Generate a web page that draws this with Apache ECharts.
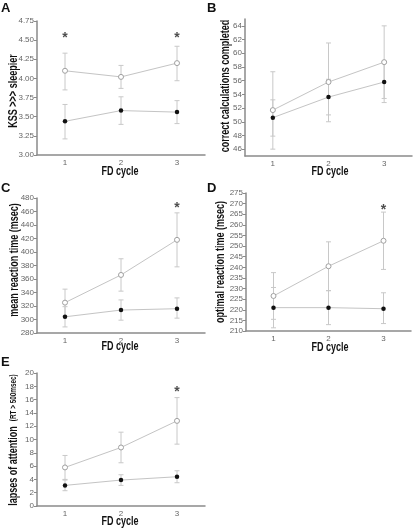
<!DOCTYPE html>
<html><head><meta charset="utf-8">
<script src="https://cdn.jsdelivr.net/npm/echarts@6/dist/echarts.min.js"></script>
<style>html,body{margin:0;padding:0;background:#fff}#c{width:415px;height:531px}</style>
</head><body><div id="c"></div>
<script>
// ---- data ----
const cycles = ['1', '2', '3'];

// Panel A: KSS
const A_open = [4.10, 4.02, 4.20];
const A_openLow = [3.85, 3.87, 3.97];
const A_openHigh = [4.33, 4.17, 4.42];
const A_fill = [3.44, 3.58, 3.56];
const A_fillLow = [3.21, 3.40, 3.41];
const A_fillHigh = [3.66, 3.76, 3.71];
const A_star = [[0, 4.57], [2, 4.57]];
const A_ticks = [3.00, 3.25, 3.50, 3.75, 4.00, 4.25, 4.50, 4.75];

// Panel B: correct calculations
const B_open = [51.7, 55.8, 58.7];
const B_openLow = [46.0, 50.0, 53.4];
const B_openHigh = [57.3, 61.5, 64.0];
const B_fill = [50.6, 53.6, 55.8];
const B_fillLow = [47.9, 51.0, 52.8];
const B_fillHigh = [53.2, 56.2, 58.8];
const B_star = [];
const B_ticks = [46, 48, 50, 52, 54, 56, 58, 60, 62, 64];

// Panel C: mean reaction time
const C_open = [325, 366, 418];
const C_openLow = [305, 342, 378];
const C_openHigh = [345, 390, 458];
const C_fill = [304, 314, 316];
const C_fillLow = [289, 299, 302];
const C_fillHigh = [319, 329, 332];
const C_star = [[2, 469]];
const C_ticks = [280, 300, 320, 340, 360, 380, 400, 420, 440, 460, 480];

// Panel D: optimal reaction time
const D_open = [226.5, 240.5, 252.5];
const D_openLow = [215.5, 229, 239];
const D_openHigh = [237.5, 252, 266];
const D_fill = [221, 221, 220.5];
const D_fillLow = [211.5, 213, 213.5];
const D_fillHigh = [230.5, 229, 228];
const D_star = [[2, 268.5]];
const D_ticks = [210, 215, 220, 225, 230, 235, 240, 245, 250, 255, 260, 265, 270, 275];

// Panel E: lapses
const E_open = [5.8, 8.8, 12.8];
const E_openLow = [4.0, 6.5, 9.3];
const E_openHigh = [7.6, 11.1, 16.3];
const E_fill = [3.1, 3.9, 4.4];
const E_fillLow = [2.3, 3.1, 3.5];
const E_fillHigh = [3.9, 4.7, 5.3];
const E_star = [[2, 17.6]];
const E_ticks = [0, 2, 4, 6, 8, 10, 12, 14, 16, 18, 20];

const xTitle = 'FD cycle';
const yTitles = ['KSS >>> sleepier', 'correct calculations completed', 'mean reaction time (msec)',
                 'optimal reaction time (msec)', ['lapses of attention', '(RT > 500msec)']];

// ---- layout ----
const FONT = '"Liberation Sans",Arial,sans-serif';
const panels = [
  {letter:'A', lx:1, ly:2, grid:{left:37, top:21, width:168, height:134}, min:3, max:4.75, ticks:A_ticks, dec:2,
   nx:13.5, ny:91, xt:[120, 172],
   open:A_open, oL:A_openLow, oH:A_openHigh, fill:A_fill, fL:A_fillLow, fH:A_fillHigh, star:A_star},
  {letter:'B', lx:207, ly:2, grid:{left:245, top:19, width:167, height:137}, min:45, max:65, ticks:B_ticks, dec:0,
   nx:226, ny:86, xt:[330, 172],
   open:B_open, oL:B_openLow, oH:B_openHigh, fill:B_fill, fL:B_fillLow, fH:B_fillHigh, star:B_star},
  {letter:'C', lx:1, ly:182, grid:{left:37, top:198, width:168, height:135}, min:280, max:480, ticks:C_ticks, dec:0,
   nx:15, ny:260, xt:[120, 347],
   open:C_open, oL:C_openLow, oH:C_openHigh, fill:C_fill, fL:C_fillLow, fH:C_fillHigh, star:C_star},
  {letter:'D', lx:207, ly:182, grid:{left:246, top:193, width:165, height:138}, min:210, max:275, ticks:D_ticks, dec:0,
   nx:221, ny:262, xt:[330, 348],
   open:D_open, oL:D_openLow, oH:D_openHigh, fill:D_fill, fL:D_fillLow, fH:D_fillHigh, star:D_star},
  {letter:'E', lx:1, ly:356, grid:{left:37, top:373, width:168, height:133}, min:0, max:20, ticks:E_ticks, dec:0,
   nx:13.5, ny:440, xt:[120, 522],
   open:E_open, oL:E_openLow, oH:E_openHigh, fill:E_fill, fL:E_fillLow, fH:E_fillHigh, star:E_star}
];

const LINE = '#c4c4c4', ERR = '#c8c8c8', AXIS = '#8a8a8a', LBL = '#666';
const SQUEEZE = 0.75;

const option = {animation:false, backgroundColor:'#fff', grid:[], xAxis:[], yAxis:[], series:[], graphic:[]};

function errRender(params, api) {
  const x = api.value(0);
  const p1 = api.coord([x, api.value(1)]);
  const p2 = api.coord([x, api.value(2)]);
  const w = 2.5;
  const st = {stroke: ERR, lineWidth: 1};
  return {type:'group', children:[
    {type:'line', shape:{x1:p1[0], y1:p1[1], x2:p2[0], y2:p2[1]}, style:st},
    {type:'line', shape:{x1:p1[0]-w, y1:p1[1], x2:p1[0]+w, y2:p1[1]}, style:st},
    {type:'line', shape:{x1:p2[0]-w, y1:p2[1], x2:p2[0]+w, y2:p2[1]}, style:st}
  ]};
}

panels.forEach((p, i) => {
  option.grid.push(Object.assign({containLabel:false}, p.grid));
  option.xAxis.push({
    type:'category', gridIndex:i, data:cycles, boundaryGap:true,
    axisLine:{lineStyle:{color:AXIS, width:1.5}},
    axisTick:{alignWithLabel:true, length:3, lineStyle:{color:AXIS}},
    axisLabel:{fontFamily:FONT, fontSize:8, color:LBL, margin:4},
    splitLine:{show:false}
  });
  option.yAxis.push({
    type:'value', gridIndex:i, min:p.min, max:p.max,
    axisLine:{show:true, lineStyle:{color:AXIS, width:1.5}},
    axisTick:{show:true, length:3, customValues:p.ticks, lineStyle:{color:AXIS}},
    axisLabel:{fontFamily:FONT, fontSize:8, color:LBL, margin:3, customValues:p.ticks,
               formatter:v => Number(v).toFixed(p.dec)},
    splitLine:{show:false}
  });
  // error bars
  option.series.push({type:'custom', xAxisIndex:i, yAxisIndex:i, renderItem:errRender, z:1,
    data:p.oL.map((v, k) => [k, v, p.oH[k]]), silent:true});
  option.series.push({type:'custom', xAxisIndex:i, yAxisIndex:i, renderItem:errRender, z:1,
    data:p.fL.map((v, k) => [k, v, p.fH[k]]), silent:true});
  // lines
  option.series.push({type:'line', xAxisIndex:i, yAxisIndex:i, data:p.open, z:3,
    symbol:'circle', symbolSize:5, lineStyle:{color:LINE, width:1},
    itemStyle:{color:'#fff', borderColor:'#a0a0a0', borderWidth:1}});
  option.series.push({type:'line', xAxisIndex:i, yAxisIndex:i, data:p.fill, z:4,
    symbol:'circle', symbolSize:4.5, lineStyle:{color:LINE, width:1},
    itemStyle:{color:'#111', borderColor:'#111', borderWidth:0}});
  // asterisks
  if (p.star.length) {
    option.series.push({type:'scatter', xAxisIndex:i, yAxisIndex:i, data:p.star, symbolSize:1,
      itemStyle:{color:'transparent'}, z:5,
      label:{show:true, position:'inside', formatter:'*', fontFamily:FONT,
             fontSize:14, fontWeight:'bold', color:'#222', offset:[0, 3]}});
  }
  // panel letter
  option.graphic.push({type:'text', left:p.lx, top:p.ly,
    style:{text:p.letter, fontFamily:FONT, fontWeight:'bold', fontSize:13, fill:'#111'}});
  // x title (condensed bold)
  option.graphic.push({type:'text', x:p.xt[0], y:p.xt[1], scaleX:SQUEEZE,
    style:{text:xTitle, fontFamily:FONT, fontWeight:'bold', fontSize:12, fill:'#111',
           align:'center', verticalAlign:'middle'}});
  // y title (rotated, condensed bold)
  const yt = yTitles[i];
  const ys = Array.isArray(yt)
    ? {text:'{b|' + yt[0] + '}  {s|' + yt[1] + '}',
       rich:{b:{fontFamily:FONT, fontWeight:'bold', fontSize:12, fill:'#111'},
             s:{fontFamily:FONT, fontWeight:'bold', fontSize:8.5, fill:'#111'}}}
    : {text:yt, fontFamily:FONT, fontWeight:'bold', fontSize:12, fill:'#111'};
  option.graphic.push({type:'text', x:p.nx, y:p.ny, rotation:Math.PI/2, scaleX:SQUEEZE,
    style:Object.assign(ys, {align:'center', verticalAlign:'middle'})});
});

const chart = echarts.init(document.getElementById('c'), null, {renderer:'canvas'});
chart.setOption(option);
</script>
</body></html>
